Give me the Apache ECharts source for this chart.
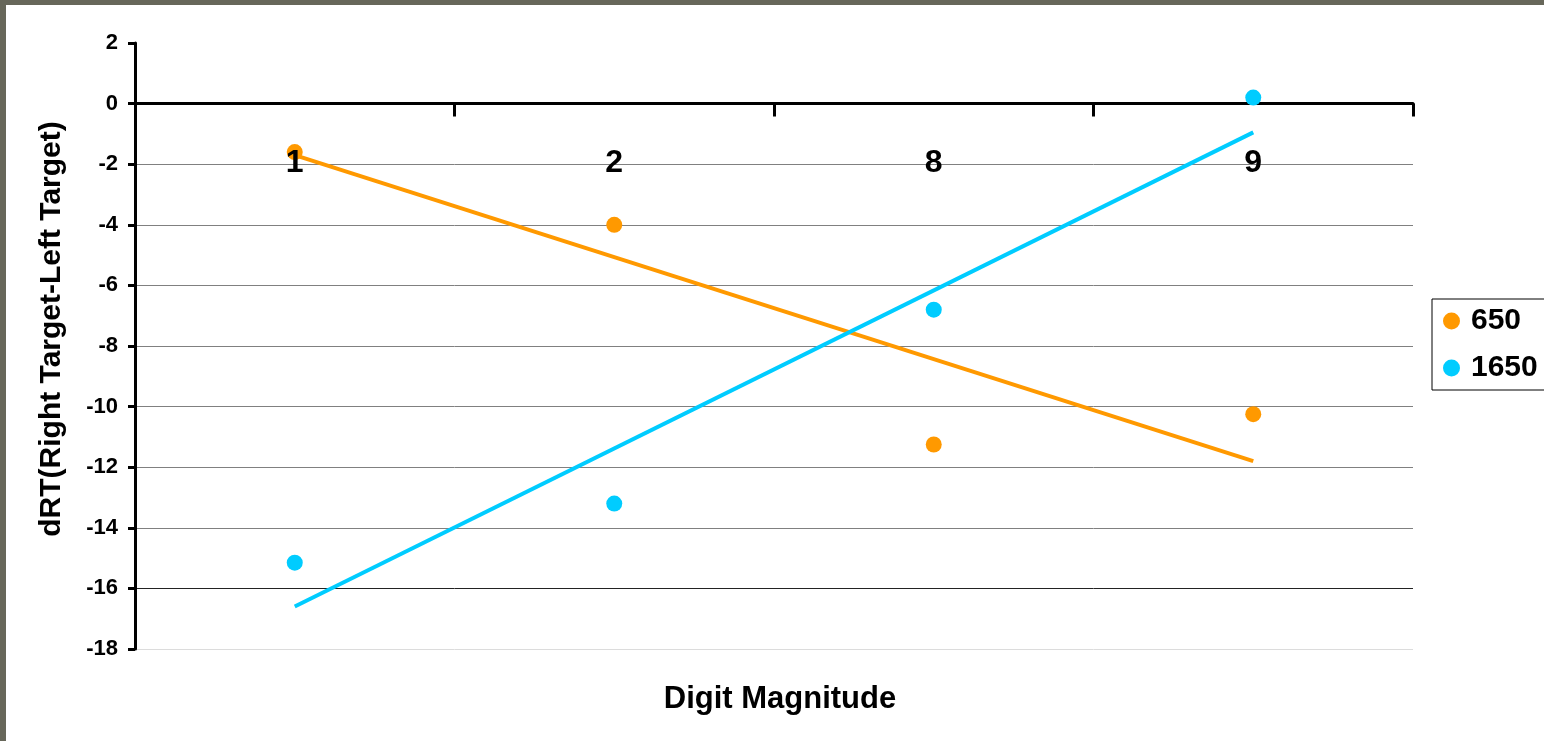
<!DOCTYPE html>
<html>
<head>
<meta charset="utf-8">
<script src="https://cdn.jsdelivr.net/npm/echarts@6/dist/echarts.min.js"></script>
<style>
html,body{margin:0;padding:0;background:#fff;}
#c{width:1544px;height:741px;}
</style>
</head>
<body>
<div id="c"></div>
<script>
const categories = ['1', '2', '8', '9'];
const series650 = [-1.6, -4.0, -11.25, -10.25];
const series1650 = [-15.15, -13.2, -6.8, 0.2];
const trend650 = [-1.7, null, null, -11.8];
const trend1650 = [-16.6, null, null, -0.95];
const yTicks = { min: -18, max: 2, interval: 2 };

const chart = echarts.init(document.getElementById('c'));
const F = 'Liberation Sans, Arial, sans-serif';
const grayLines = ['#dcdcdc', '#222222', '#808080', '#808080', '#808080', '#808080', '#808080', '#808080', '#808080', 'rgba(0,0,0,0)', 'rgba(0,0,0,0)'];
const gridTop = 43, gridBottom = 92, H = 741;
const plotH = H - gridTop - gridBottom;
const zeroOffset = -plotH * (0 - yTicks.min) / (yTicks.max - yTicks.min);
chart.setOption({
  backgroundColor: '#ffffff',
  animation: false,
  graphic: [
    { type: 'rect', left: 0, top: 0, shape: { width: 1544, height: 5 }, style: { fill: '#67675a' }, z: 100 },
    { type: 'rect', left: 0, top: 0, shape: { width: 6, height: 741 }, style: { fill: '#67675a' }, z: 100 },
    { type: 'text', x: 52, y: 329, rotation: Math.PI / 2,
      style: { text: 'dRT(Right Target-Left Target)', fontFamily: F, fontWeight: 'bold', fontSize: 30, fill: '#000',
               textAlign: 'center', textVerticalAlign: 'middle' } }
  ],
  title: {
    text: 'Digit Magnitude',
    left: 775, top: 679, textAlign: 'center',
    textStyle: { fontFamily: F, fontWeight: 'bold', fontSize: 31, color: '#000' }
  },
  legend: {
    data: ['650', '1650'],
    orient: 'vertical',
    left: 1432, top: 299,
    borderColor: '#000', borderWidth: 1,
    padding: [3, 40, 3, 11],
    itemGap: 9,
    itemWidth: 17, itemHeight: 17,
    icon: 'circle',
    textStyle: { fontFamily: F, fontWeight: 'bold', fontSize: 30, color: '#000', lineHeight: 38, padding: [0, 0, 0, 6] }
  },
  grid: { left: 135, top: gridTop, right: 131, bottom: gridBottom, containLabel: false },
  xAxis: [
    {
      type: 'category',
      data: categories,
      position: 'bottom',
      boundaryGap: true,
      offset: zeroOffset,
      axisLine: { onZero: false, lineStyle: { color: '#000', width: 3 } },
      axisTick: { show: true, length: 13, lineStyle: { color: '#000', width: 3 }, alignWithLabel: false },
      axisLabel: { show: false },
      splitLine: { show: false }
    },
    {
      type: 'category',
      data: categories,
      position: 'bottom',
      boundaryGap: true,
      offset: zeroOffset,
      z: 10,
      axisLine: { show: false, onZero: false },
      axisTick: { show: false },
      axisLabel: { margin: 44, fontFamily: F, fontWeight: 'bold', fontSize: 32, color: '#000' },
      splitLine: { show: false }
    }
  ],
  yAxis: {
    type: 'value',
    min: yTicks.min, max: yTicks.max, interval: yTicks.interval,
    axisLine: { show: true, lineStyle: { color: '#000', width: 3 } },
    axisTick: { show: true, length: 7, lineStyle: { color: '#000', width: 3 } },
    axisLabel: { margin: 17, fontFamily: F, fontWeight: 'bold', fontSize: 22, color: '#000' },
    splitLine: { show: true, lineStyle: { color: grayLines, width: 1 } }
  },
  series: [
    { name: '650 trend', type: 'line', data: trend650, connectNulls: true, showSymbol: false, symbol: 'none',
      lineStyle: { color: '#ff9900', width: 4 }, itemStyle: { color: '#ff9900' }, z: 3 },
    { name: '1650 trend', type: 'line', data: trend1650, connectNulls: true, showSymbol: false, symbol: 'none',
      lineStyle: { color: '#00ccff', width: 4 }, itemStyle: { color: '#00ccff' }, z: 3 },
    { name: '650', type: 'scatter', data: series650, symbolSize: 16, itemStyle: { color: '#ff9900', opacity: 1 }, z: 4 },
    { name: '1650', type: 'scatter', data: series1650, symbolSize: 16, itemStyle: { color: '#00ccff', opacity: 1 }, z: 4 }
  ]
});
</script>
</body>
</html>
